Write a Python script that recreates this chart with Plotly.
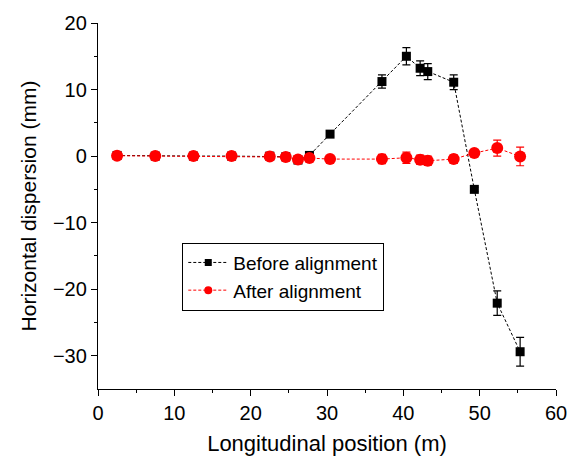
import plotly.graph_objects as go

# Measurement stations along the beamline (m)
position = [2.5, 7.5, 12.5, 17.5, 22.5, 24.6, 26.2, 27.7, 30.4, 37.2,
            40.4, 42.2, 43.2, 46.6, 49.3, 52.3, 55.3]

# Horizontal dispersion before alignment (mm) and its uncertainty
before = [0.1, 0.0, 0.0, 0.0, 0.0, -0.1, -0.6, 0.1, 3.3, 11.2,
          15.0, 13.2, 12.7, 11.1, -5.0, -22.1, -29.4]
before_err = [0.2, 0.2, 0.2, 0.2, 0.2, 0.2, 0.3, 0.3, 0.3, 1.0,
              1.3, 1.1, 1.2, 1.1, 0.3, 1.85, 2.15]

# Horizontal dispersion after alignment (mm) and its uncertainty
after = [0.05, 0.0, 0.0, 0.0, -0.05, -0.15, -0.5, -0.3, -0.45, -0.45,
         -0.25, -0.55, -0.7, -0.45, 0.45, 1.2, -0.05]
after_err = [0.2, 0.2, 0.2, 0.2, 0.2, 0.2, 0.3, 0.3, 0.3, 0.7,
             0.85, 0.7, 0.7, 0.65, 0.3, 1.2, 1.4]

names = ["Before alignment", "After alignment"]
colors = ["black", "red"]

FONT = "Arial, Liberation Sans, sans-serif"
DASH = "3px,2px"

fig = go.Figure()

series = [(before, before_err, "square", 9), (after, after_err, "circle", 12)]
for (vals, errs, sym, size), name, col in zip(series, names, colors):
    fig.add_trace(go.Scatter(
        x=position, y=vals, mode="lines+markers", name=name,
        legendgroup=name, showlegend=False,
        line=dict(color=col, width=1, dash=DASH),
        marker=dict(symbol=sym, size=size, color=col),
        error_y=dict(type="data", array=errs, visible=True,
                     color=col, thickness=1.2, width=4),
    ))

# Legend entries with smaller symbols
for (vals, errs, sym, size), name, col in zip(series, names, colors):
    fig.add_trace(go.Scatter(
        x=[None], y=[None], mode="lines+markers", name=name,
        legendgroup=name, showlegend=True,
        line=dict(color=col, width=1, dash=DASH),
        marker=dict(symbol=sym, size=7 if sym == "square" else 8, color=col),
    ))

axis_common = dict(
    showline=True, linecolor="black", linewidth=1.3,
    ticks="outside", ticklen=6, tickwidth=1.3, tickcolor="black",
    showgrid=False, zeroline=False, mirror=False,
    tickfont=dict(family=FONT, size=20, color="black"),
)

fig.update_xaxes(
    range=[0, 60], tickvals=[0, 10, 20, 30, 40, 50, 60],
    minor=dict(tickvals=[5, 15, 25, 35, 45, 55], ticks="outside",
               ticklen=3, tickwidth=1.3, tickcolor="black"),
    title=dict(text="Longitudinal position (m)",
               font=dict(family=FONT, size=22, color="black"), standoff=12),
    **axis_common,
)
fig.update_yaxes(
    range=[-35, 20], tickvals=[-30, -20, -10, 0, 10, 20],
    ticktext=["\u221230", "\u221220", "\u221210", "0", "10", "20"],
    minor=dict(tickvals=[-25, -15, -5, 5, 15], ticks="outside",
               ticklen=3, tickwidth=1.3, tickcolor="black"),
    title=dict(text="Horizontal dispersion (mm)",
               font=dict(family=FONT, size=21, color="black"), standoff=10),
    **axis_common,
)

fig.update_layout(
    width=579, height=464,
    margin=dict(l=98, r=20, t=19, b=75),
    paper_bgcolor="white", plot_bgcolor="white",
    font=dict(family=FONT, color="black"),
    showlegend=True,
    legend=dict(
        x=0.184, y=0.40, xanchor="left", yanchor="top",
        bgcolor="white", bordercolor="black", borderwidth=1,
        font=dict(family=FONT, size=19, color="black"),
        tracegroupgap=0, itemwidth=40,
    ),
)

fig.write_html("out.html")
